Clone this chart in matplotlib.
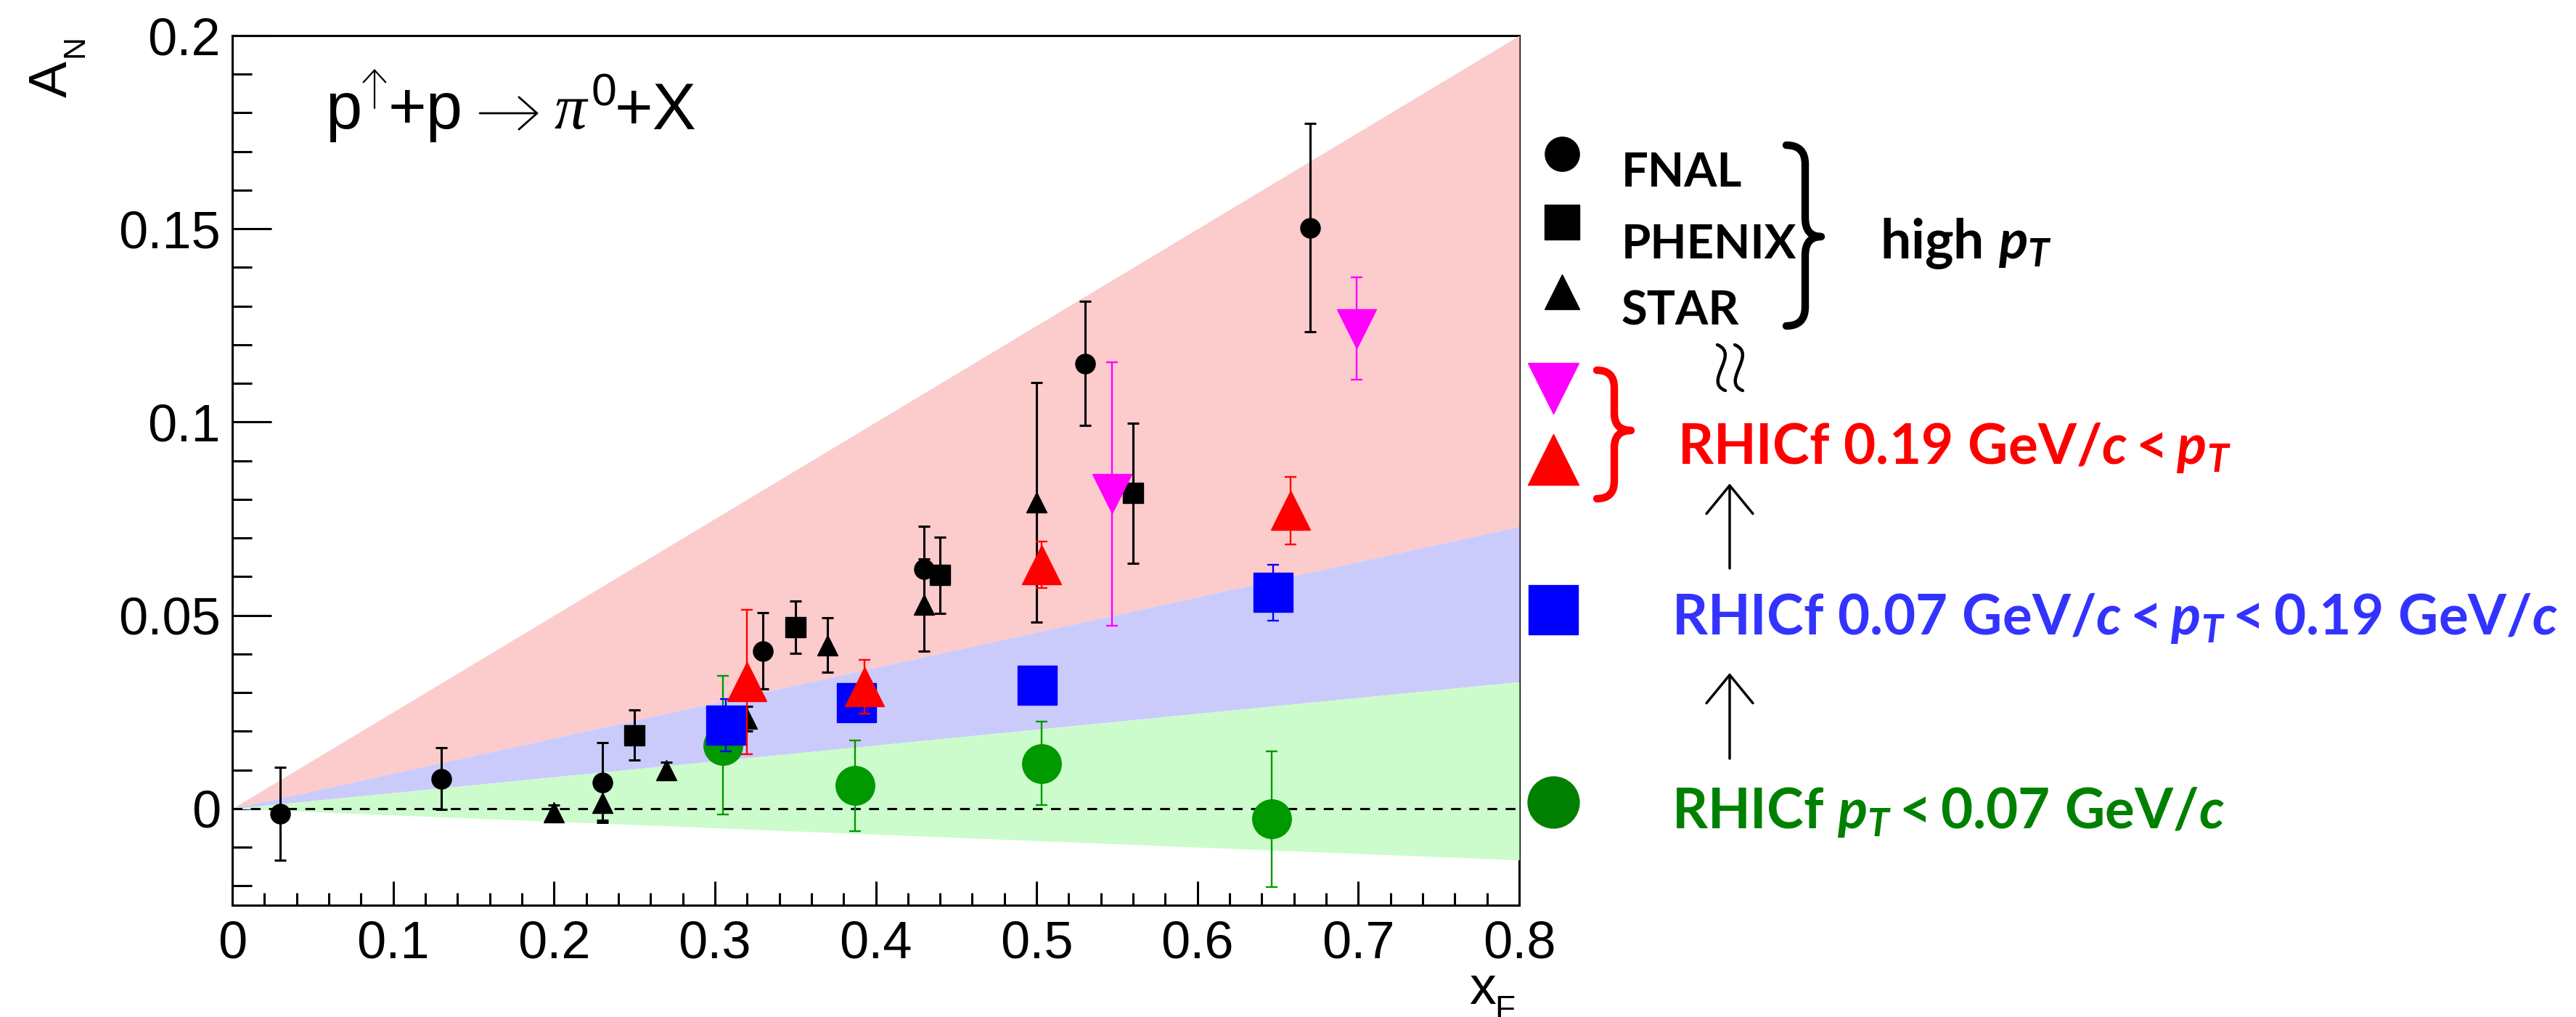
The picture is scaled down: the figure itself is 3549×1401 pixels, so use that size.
import numpy as np
import matplotlib
matplotlib.use("Agg")
import matplotlib.pyplot as plt
from matplotlib.path import Path
from matplotlib.patches import PathPatch, FancyArrowPatch
from matplotlib.ticker import MultipleLocator, FuncFormatter

plt.rcParams['font.family'] = ['Liberation Sans', 'DejaVu Sans']
plt.rcParams['mathtext.fontset'] = 'custom'
plt.rcParams['mathtext.rm'] = 'Lato:bold'
plt.rcParams['mathtext.it'] = 'Lato:bold:italic'
plt.rcParams['mathtext.bf'] = 'Lato:bold'

W, H = 3549, 1401   # canvas in pixels

# --- high pT world data (A_N vs x_F) ---
fnal_x = [0.03, 0.13, 0.23, 0.33, 0.43, 0.53, 0.67]
fnal_an = [-0.0013, 0.0077, 0.0068, 0.0408, 0.062, 0.1152, 0.1503]
fnal_err = [0.012, 0.008, 0.0103, 0.0099, 0.011, 0.016, 0.027]

phenix_x = [0.25, 0.35, 0.44, 0.56]
phenix_an = [0.019, 0.0469, 0.0604, 0.0816]
phenix_err = [0.0065, 0.0067, 0.0099, 0.0182]

star_x = [0.20, 0.23, 0.27, 0.32, 0.37, 0.43, 0.50]
star_an = [-0.001, 0.0015, 0.010, 0.0232, 0.0423, 0.0527, 0.0793]
star_err = [0.002, 0.0046, 0.002, 0.0032, 0.007, 0.0119, 0.031]

# --- RHICf ---
low_x = [0.305, 0.387, 0.503, 0.646]          # pT < 0.07
low_an = [0.0164, 0.0059, 0.0117, -0.0027]
low_err = [0.018, 0.0118, 0.0108, 0.0176]

mid_x = [0.307, 0.388, 0.5005, 0.647]         # 0.07 < pT < 0.19
mid_an = [0.0216, 0.0274, 0.032, 0.0559]
mid_err = [0.0067, 0.004, 0.004, 0.0072]

high_x = [0.320, 0.393, 0.503, 0.658]         # 0.19 < pT
high_an = [0.0328, 0.0315, 0.0631, 0.0771]
high_err = [0.0187, 0.007, 0.006, 0.0087]

high2_x = [0.547, 0.699]
high2_an = [0.0814, 0.1242]
high2_err = [0.034, 0.0133]

# band edges at x_F = 0.8 (bands open linearly from the origin)
band_x = [0.0, 0.8]
band_edges = [0.2, 0.073, 0.0328, -0.0133]
band_colors = ['#fccbcb', '#cbcbfb', '#ccfccc']

fig = plt.figure(figsize=(W / 100, H / 100), dpi=100)
ax = fig.add_axes([320 / W, 1 - 1247 / H, (2093 - 320) / W, (1247 - 49) / H])

for hi, lo, c in zip(band_edges[:-1], band_edges[1:], band_colors):
    ax.fill_between(band_x, [0, hi], [0, lo], color=c, lw=0, zorder=2.6)

ax.plot([0, 0.8], [0, 0], color='k', lw=2.2, dashes=(4.4, 3.8), zorder=3)

blk = dict(color='k', ms=19.5, elinewidth=2.2, capsize=5.8, capthick=2.2, ls='none', zorder=4)
ax.errorbar(fnal_x, fnal_an, yerr=fnal_err, fmt='o', **blk)
ax.errorbar(phenix_x, phenix_an, yerr=phenix_err, fmt='s', **blk)
ax.errorbar(star_x, star_an, yerr=star_err, fmt='^', **blk)

col = dict(ms=38.5, elinewidth=1.7, capsize=5.8, capthick=1.7, ls='none')
ax.errorbar(low_x, low_an, yerr=low_err, fmt='o', color='#009900', zorder=5, **col)
ax.errorbar(mid_x, mid_an, yerr=mid_err, fmt='s', color='#0000ff', zorder=6, **col)
ax.errorbar(high_x, high_an, yerr=high_err, fmt='^', color='#ff0000', zorder=7, **col)
ax.errorbar(high2_x, high2_an, yerr=high2_err, fmt='v', color='#ff00ff', zorder=7, **col)

ax.set_xlim(0, 0.8)
ax.set_ylim(-0.025, 0.2)
ax.xaxis.set_major_locator(MultipleLocator(0.1))
ax.xaxis.set_minor_locator(MultipleLocator(0.02))
ax.yaxis.set_major_locator(MultipleLocator(0.05))
ax.yaxis.set_minor_locator(MultipleLocator(0.01))
fmt = FuncFormatter(lambda v, p: '%g' % round(v, 3))
ax.xaxis.set_major_formatter(fmt)
ax.yaxis.set_major_formatter(fmt)
ax.tick_params(which='both', direction='in', top=False, right=False, width=2.2, labelsize=52)
ax.tick_params(axis='y', which='major', length=38.6, pad=11.5)
ax.tick_params(axis='y', which='minor', length=19.3)
ax.tick_params(axis='x', which='major', length=24, pad=15)
ax.tick_params(axis='x', which='minor', length=12)
for s in ax.spines.values():
    s.set_linewidth(2.2)

# overlay in pixel coordinates for labels and the key on the right
ov = fig.add_axes([0, 0, 1, 1])
ov.set_xlim(0, W)
ov.set_ylim(H, 0)
ov.axis('off')

lib = dict(family='Liberation Sans', color='k')
ov.text(92, 134, 'A', fontsize=54, rotation=90, rotation_mode='anchor', ha='left', va='baseline', **lib)
ov.text(115, 79, 'N', fontsize=31, rotation=90, rotation_mode='anchor', ha='left', va='baseline', **lib)
ov.text(2024, 1383, 'x', fontsize=53, ha='left', va='baseline', **lib)
ov.text(2059, 1404, 'F', fontsize=33, ha='left', va='baseline', **lib)

# p(up)+p -> pi0+X
ov.text(448, 177.5, 'p', fontsize=65, va='baseline', **lib)
ov.text(535, 177.5, '+p', fontsize=65, va='baseline', **lib)
ov.text(764, 177.5, 'π', fontsize=64, va='baseline', family='Liberation Serif', style='italic')
ov.text(815, 146, '0', fontsize=45, va='baseline', **lib)
ov.text(847, 177.5, '+X', fontsize=65, va='baseline', **lib)
ov.add_patch(FancyArrowPatch((516, 149), (516, 95), arrowstyle='->,head_length=12,head_width=11',
                             lw=1.6, color='k', shrinkA=0, shrinkB=0))
ov.add_patch(FancyArrowPatch((661, 156), (742, 156), arrowstyle='->,head_length=18,head_width=16',
                             lw=2.0, color='k', shrinkA=0, shrinkB=0))

# key: high pT experiments
ov.plot(2152, 212, 'o', ms=34, color='k')
ov.plot(2152, 306, 's', ms=34, color='k')
ov.plot(2152, 402, '^', ms=34, color='k')
lab = dict(family='Lato', weight='bold', fontsize=47, va='baseline', color='k')
ov.text(2234, 257, 'FNAL', **lab)
ov.text(2234, 356, 'PHENIX', **lab)
ov.text(2234, 448, 'STAR', **lab)
ov.text(2590, 356, r'$\mathrm{high}\ p_T$', fontsize=54, va='baseline', color='k')


def brace(x0, xm, xt, y0, ym, y1, color):
    r = xm - x0
    verts = [(x0, y0), (xm, y0), (xm, y0 + r), (xm, ym - r), (xm, ym), (xt, ym),
             (xm, ym), (xm, ym + r), (xm, y1 - r), (xm, y1), (x0, y1)]
    codes = [Path.MOVETO, Path.CURVE3, Path.CURVE3, Path.LINETO, Path.CURVE3, Path.CURVE3,
             Path.CURVE3, Path.CURVE3, Path.LINETO, Path.CURVE3, Path.CURVE3]
    ov.add_patch(PathPatch(Path(verts, codes), fill=False, edgecolor=color, lw=7.5,
                           capstyle='round', joinstyle='round'))


brace(2461, 2487, 2509, 200, 326, 449, 'k')

# "not equal in scale" mark between the two groups: two wavy strokes
for dx in (0, 24):
    wave = Path([(2366 + dx, 475), (2398 + dx, 488), (2346 + dx, 526), (2377 + dx, 538)],
                [Path.MOVETO, Path.CURVE4, Path.CURVE4, Path.CURVE4])
    ov.add_patch(PathPatch(wave, fill=False, edgecolor='k', lw=3.2, capstyle='round'))

# key: RHICf
ov.plot(2140, 535, 'v', ms=51, color='#ff00ff')
ov.plot(2140, 633, '^', ms=51, color='#ff0000')
brace(2200, 2224, 2247, 510, 593, 687, '#ff0000')
ov.text(2311, 639, r'$\mathrm{RHICf\ 0.19\ GeV/}c<p_T$', fontsize=55, va='baseline', color='#ff0000')

ov.plot(2140, 840, 's', ms=49, color='#0000ff')
ov.text(2303, 874, r'$\mathrm{RHICf\ 0.07\ GeV/}c<p_T<\mathrm{0.19\ GeV/}c$', fontsize=55,
        va='baseline', color='#3333ff')

ov.plot(2140, 1105, 'o', ms=51, color='#008000')
ov.text(2303, 1141, r'$\mathrm{RHICf\ }p_T<\mathrm{0.07\ GeV/}c$', fontsize=55, va='baseline',
        color='#008000')

for y_tail, y_tip in [(783, 666), (1045, 927)]:
    ov.add_patch(FancyArrowPatch((2383, y_tail), (2383, y_tip),
                                 arrowstyle='->,head_length=28,head_width=23',
                                 lw=2.5, color='k', shrinkA=0, shrinkB=0))

fig.savefig('out.png', dpi=100)
